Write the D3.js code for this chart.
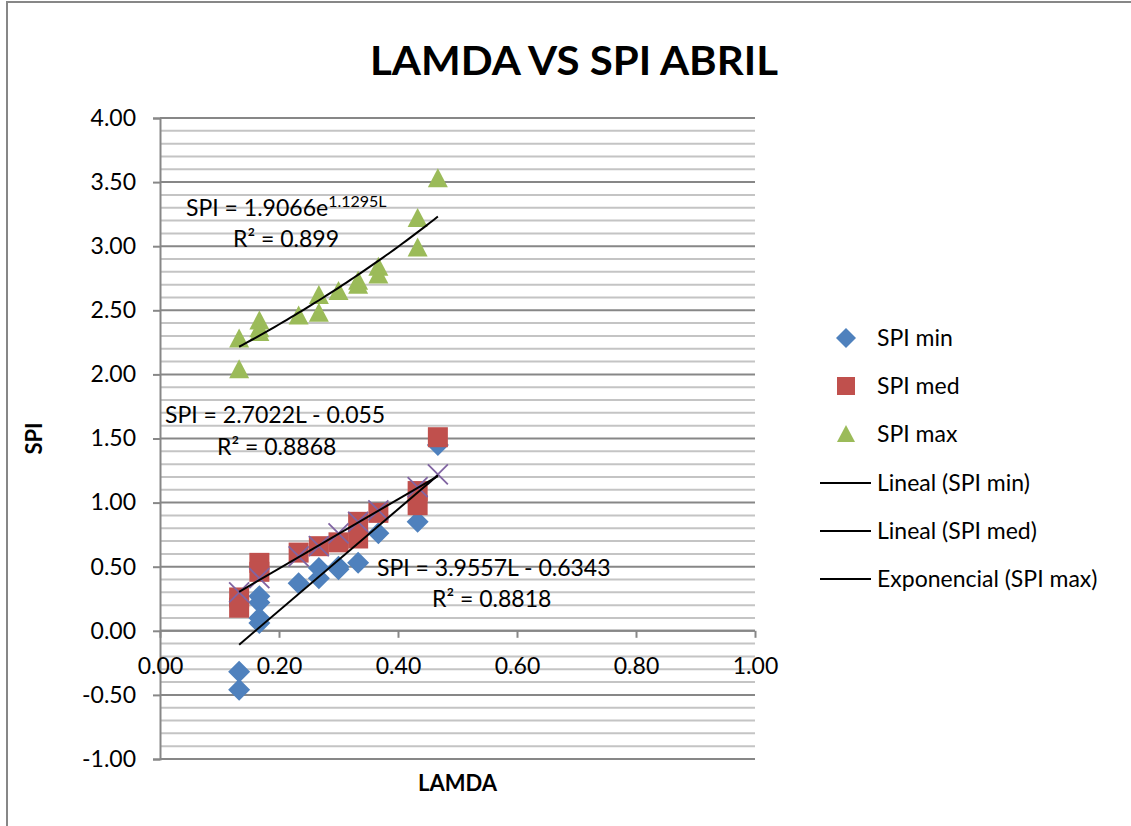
<!DOCTYPE html>
<html>
<head>
<meta charset="utf-8">
<script src="https://cdn.jsdelivr.net/npm/d3@7"></script>
<style>
  html, body { margin: 0; padding: 0; background: #fff; }
  svg { display: block; }
  text { font-family: Lato, "Open Sans", sans-serif; fill: #000; }
</style>
</head>
<body>
<svg id="chart" width="1131" height="826"></svg>
<script>
// ---------------- DATA ----------------
const titleText = "LAMDA VS SPI ABRIL";
const xTitle = "LAMDA";
const yTitle = "SPI";

const xTicks = [0, 0.2, 0.4, 0.6, 0.8, 1.0];
const yTicks = [-1, -0.5, 0, 0.5, 1, 1.5, 2, 2.5, 3, 3.5, 4];

// SPI min (blue diamonds)
const minX = [0.133, 0.133, 0.167, 0.167, 0.167, 0.167, 0.233, 0.267, 0.267, 0.300, 0.300, 0.333, 0.367, 0.433, 0.467];
const minY = [-0.32, -0.46, 0.27, 0.22, 0.10, 0.06, 0.37, 0.49, 0.41, 0.50, 0.48, 0.53, 0.76, 0.85, 1.45];

// SPI med (red squares)
const medX = [0.133, 0.133, 0.167, 0.167, 0.233, 0.267, 0.300, 0.333, 0.333, 0.367, 0.433, 0.433, 0.467];
const medY = [0.26, 0.18, 0.53, 0.46, 0.61, 0.66, 0.69, 0.85, 0.72, 0.92, 1.09, 0.98, 1.51];

// SPI max (green triangles)
const maxX = [0.133, 0.133, 0.167, 0.167, 0.167, 0.233, 0.267, 0.267, 0.300, 0.333, 0.333, 0.367, 0.367, 0.433, 0.433, 0.467];
const maxY = [2.28, 2.04, 2.42, 2.36, 2.33, 2.46, 2.62, 2.48, 2.65, 2.73, 2.70, 2.84, 2.78, 3.22, 2.99, 3.53];

// unlabeled 4th series (purple crosses)
const fitX = [0.133, 0.167, 0.233, 0.267, 0.300, 0.333, 0.367, 0.433, 0.467];
const fitY = [0.30, 0.41, 0.58, 0.66, 0.76, 0.85, 0.94, 1.12, 1.22];

// trendline coefficients (from the chart labels)
const linMin = [3.9557, -0.6343];   // slope, intercept
const linMed = [2.7022, -0.055];
const expMax = [1.9066, 1.1295];    // a, b  (a*e^(b*L))
const trendRange = [0.133, 0.467];

const legendLabels = ["SPI min", "SPI med", "SPI max", "Lineal (SPI min)", "Lineal (SPI med)", "Exponencial (SPI max)"];
const colors = { min: "#4F81BD", med: "#C0504D", max: "#9BBB59", fit: "#8064A2" };

// ---------------- CHART ----------------
const svg = d3.select("#chart");
const L = 160, R = 755, T = 118, B = 759;
const x = d3.scaleLinear().domain([0, 1]).range([L, R]);
const y = d3.scaleLinear().domain([-1, 4]).range([B, T]);
const fmt = v => d3.format(".2f")(v).replace("\u2212", "-");

// outer chart border
svg.append("rect").attr("x", 7).attr("y", 2).attr("width", 1200).attr("height", 1000)
  .attr("fill", "none").attr("stroke", "#878787").attr("stroke-width", 2);

// gridlines
const gridVals = d3.range(-10, 41).map(v => v / 10);
svg.append("g").selectAll("line").data(gridVals).join("line")
  .attr("x1", L).attr("x2", R)
  .attr("y1", d => y(d)).attr("y2", d => y(d))
  .attr("stroke", d => Math.abs(Math.round(d * 10)) % 5 === 0 ? "#878787" : "#C4C4C4")
  .attr("stroke-width", 2);

// y axis
const yAxis = d3.axisLeft(y).tickValues(yTicks).tickSize(7).tickPadding(17).tickFormat(fmt);
const gy = svg.append("g").attr("transform", `translate(${L},0)`).call(yAxis);
gy.select(".domain").attr("stroke", "#878787").attr("stroke-width", 2);
gy.selectAll(".tick line").attr("stroke", "#878787").attr("stroke-width", 2);
gy.selectAll(".tick text").style("font-family", "Lato, sans-serif").style("font-size", "23px").attr("fill", "#000");

// x axis at y=0
const xAxis = d3.axisBottom(x).tickValues(xTicks).tickSize(7).tickPadding(20).tickFormat(fmt);
const gx = svg.append("g").attr("transform", `translate(0,${y(0)})`).call(xAxis);
gx.select(".domain").attr("stroke", "#878787").attr("stroke-width", 2).attr("d", `M${L},0H${R}`);
gx.selectAll(".tick line").attr("stroke", "#878787").attr("stroke-width", 2);
gx.selectAll(".tick text").style("font-family", "Lato, sans-serif").style("font-size", "23px").attr("fill", "#000");

function pts(xs, ys) { return xs.map((v, i) => [v, ys[i]]); }

// markers
svg.append("g").selectAll("path").data(pts(minX, minY)).join("path")
  .attr("d", "M0,-11L11,0L0,11L-11,0Z")
  .attr("transform", d => `translate(${x(d[0])},${y(d[1])})`)
  .attr("fill", colors.min);

svg.append("g").selectAll("rect").data(pts(medX, medY)).join("rect")
  .attr("x", d => x(d[0]) - 10).attr("y", d => y(d[1]) - 10)
  .attr("width", 20).attr("height", 20).attr("fill", colors.med);

svg.append("g").selectAll("path").data(pts(maxX, maxY)).join("path")
  .attr("d", "M0,-10L10,9L-10,9Z")
  .attr("transform", d => `translate(${x(d[0])},${y(d[1])})`)
  .attr("fill", colors.max);

svg.append("g").selectAll("path").data(pts(fitX, fitY)).join("path")
  .attr("d", "M-10,-10L10,10M-10,10L10,-10")
  .attr("transform", d => `translate(${x(d[0])},${y(d[1])})`)
  .attr("stroke", colors.fit).attr("stroke-width", 1.8).attr("fill", "none");

// trendlines
const line = d3.line().x(d => x(d[0])).y(d => y(d[1]));
const tx = d3.range(0, 51).map(i => trendRange[0] + (trendRange[1] - trendRange[0]) * i / 50);
const tg = svg.append("g").attr("fill", "none").attr("stroke", "#000").attr("stroke-width", 2);
tg.append("path").attr("d", line(trendRange.map(v => [v, linMin[0] * v + linMin[1]])));
tg.append("path").attr("d", line(trendRange.map(v => [v, linMed[0] * v + linMed[1]])));
tg.append("path").attr("d", line(tx.map(v => [v, expMax[0] * Math.exp(expMax[1] * v)])));

// trend labels
const lab = svg.append("g").style("font-size", "23px");
const e1 = lab.append("text").attr("x", 186).attr("y", 216);
e1.append("tspan").text("SPI = 1.9066e");
e1.append("tspan").attr("dy", -9).style("font-size", "16px").text("1.1295L");
lab.append("text").attr("x", 233).attr("y", 247).text("R² = 0.899");
lab.append("text").attr("x", 165).attr("y", 423).text("SPI = 2.7022L - 0.055");
lab.append("text").attr("x", 217).attr("y", 455).text("R² = 0.8868");
lab.append("text").attr("x", 377).attr("y", 576).text("SPI = 3.9557L - 0.6343");
lab.append("text").attr("x", 432).attr("y", 607).text("R² = 0.8818");

// titles
svg.append("text").attr("x", 574).attr("y", 75).attr("text-anchor", "middle")
  .style("font-size", "40px").style("font-weight", "bold")
  .attr("textLength", 408).attr("lengthAdjust", "spacingAndGlyphs").text(titleText);
svg.append("text").attr("x", (L + R) / 2).attr("y", 791).attr("text-anchor", "middle")
  .style("font-size", "22px").style("font-weight", "bold").text(xTitle);
svg.append("text").attr("transform", `translate(42,${(T + B) / 2}) rotate(-90)`).attr("text-anchor", "middle")
  .style("font-size", "22px").style("font-weight", "bold").text(yTitle);

// legend
const legY = [338, 386, 434, 483, 531, 579];
const lg = svg.append("g");
legendLabels.forEach((t, i) => {
  const cy = legY[i];
  if (i === 0) lg.append("path").attr("d", "M0,-10L10,0L0,10L-10,0Z").attr("transform", `translate(846,${cy})`).attr("fill", colors.min);
  else if (i === 1) lg.append("rect").attr("x", 837).attr("y", cy - 9).attr("width", 18).attr("height", 18).attr("fill", colors.med);
  else if (i === 2) lg.append("path").attr("d", "M0,-9L9,8L-9,8Z").attr("transform", `translate(846,${cy})`).attr("fill", colors.max);
  else lg.append("line").attr("x1", 820).attr("x2", 871).attr("y1", cy).attr("y2", cy).attr("stroke", "#000").attr("stroke-width", 2);
  lg.append("text").attr("x", 877).attr("y", cy).attr("dy", "0.35em").style("font-size", "23px").text(t);
});
</script>
</body>
</html>
